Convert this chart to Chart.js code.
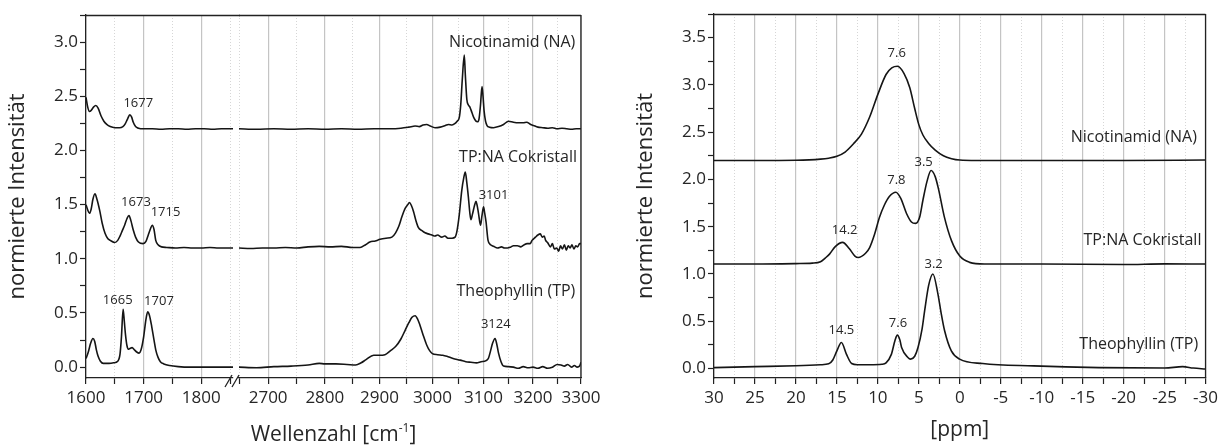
<!DOCTYPE html>
<html>
<head>
<meta charset="utf-8">
<script src="https://cdn.jsdelivr.net/npm/chart.js@4.4.0/dist/chart.umd.min.js"></script>
<style>
body { margin: 0; background: #fff; width: 1222px; height: 446px; overflow: hidden; position: relative; font-family: "Open Sans", sans-serif; }
.box { position: absolute; top: 0; height: 446px; }
#boxB { left: 0; width: 610px; }
#boxA { left: 0; width: 240px; }
#boxC { left: 600px; width: 622px; }
#xtitle { position: absolute; left: 86px; width: 495px; top: 420px; text-align: center; font-size: 21px; line-height: 26px; color: #262626; }
#xtitle sup { font-size: 12px; vertical-align: 9px; line-height: 0; }
</style>
</head>
<body>
<div class="box" id="boxB"><canvas id="irHigh"></canvas></div>
<div class="box" id="boxA"><canvas id="irLow"></canvas></div>
<div class="box" id="boxC"><canvas id="nmr"></canvas></div>
<div id="xtitle">Wellenzahl [cm<sup>-1</sup>]</div>
<script>
// ticks
const irTicksLow = [1600, 1650, 1700, 1750, 1800, 1850];
const irTicksHigh = [2650, 2700, 2750, 2800, 2850, 2900, 2950, 3000, 3050, 3100, 3150, 3200, 3250, 3300];
const ppmTicks = [30, 27.5, 25, 22.5, 20, 17.5, 15, 12.5, 10, 7.5, 5, 2.5, 0, -2.5, -5, -7.5, -10, -12.5, -15, -17.5, -20, -22.5, -25, -27.5, -30];
const irYTicks = [0, 0.25, 0.5, 0.75, 1, 1.25, 1.5, 1.75, 2, 2.25, 2.5, 2.75, 3, 3.25];
const nmrYTicks = [0, 0.25, 0.5, 0.75, 1, 1.25, 1.5, 1.75, 2, 2.25, 2.5, 2.75, 3, 3.25, 3.5, 3.75];

// IR spektren, bereich 1600-1855
const irNaLow = [[1600,2.49],[1603,2.40],[1606,2.36],[1609,2.37],[1613,2.40],[1617,2.415],[1621,2.39],[1626,2.32],[1631,2.27],[1636,2.24],[1642,2.22],[1650,2.21],[1658,2.21],[1664,2.22],[1668,2.245],[1672,2.29],[1676,2.33],[1679,2.31],[1682,2.26],[1686,2.22],[1691,2.205],[1700,2.20],[1715,2.20],[1730,2.195],[1745,2.20],[1760,2.20],[1775,2.195],[1790,2.20],[1805,2.20],[1820,2.195],[1835,2.20],[1855,2.20]];
const irCoLow = [[1600,1.50],[1603,1.45],[1606,1.42],[1609,1.46],[1612,1.55],[1615.5,1.60],[1619,1.55],[1624,1.44],[1628,1.33],[1633,1.235],[1638,1.185],[1642,1.17],[1650,1.15],[1655,1.17],[1659,1.21],[1663,1.26],[1667,1.31],[1671,1.37],[1674.5,1.40],[1678,1.35],[1682,1.265],[1686,1.20],[1691,1.155],[1699,1.14],[1704,1.16],[1708,1.22],[1712,1.28],[1715,1.31],[1718,1.27],[1721,1.17],[1725,1.13],[1731,1.11],[1740,1.105],[1755,1.10],[1770,1.105],[1785,1.10],[1800,1.10],[1815,1.105],[1830,1.10],[1845,1.10],[1855,1.10]];
const irTpLow = [[1600,0.08],[1604,0.14],[1608,0.22],[1612,0.265],[1615,0.24],[1618,0.16],[1621,0.10],[1625,0.055],[1630,0.035],[1640,0.035],[1648,0.04],[1655,0.055],[1659,0.12],[1661.5,0.28],[1664.4,0.535],[1666.5,0.42],[1668.5,0.30],[1671,0.20],[1674,0.165],[1677,0.175],[1680,0.18],[1684,0.16],[1688,0.14],[1692,0.13],[1696,0.17],[1700,0.28],[1704,0.44],[1707,0.51],[1710,0.48],[1714,0.375],[1718,0.25],[1721,0.16],[1725,0.09],[1729,0.05],[1735,0.03],[1745,0.015],[1760,0.005],[1780,0.0],[1800,0.0],[1820,0.0],[1840,0.0],[1855,0.0]];

// IR spektren, bereich 2650-3300
const irNaHigh = [[2650,2.20],[2680,2.195],[2710,2.20],[2740,2.195],[2770,2.20],[2800,2.195],[2830,2.20],[2860,2.195],[2890,2.20],[2920,2.20],[2940,2.205],[2955,2.215],[2967,2.225],[2975,2.22],[2982,2.235],[2989,2.24],[2996,2.225],[3005,2.21],[3015,2.215],[3025,2.23],[3031,2.24],[3038,2.235],[3044,2.25],[3048,2.27],[3052,2.30],[3055,2.42],[3058,2.65],[3062,2.88],[3064,2.70],[3067,2.47],[3070,2.42],[3073,2.40],[3077,2.35],[3081,2.30],[3085,2.27],[3088,2.265],[3091,2.29],[3094,2.42],[3097,2.59],[3099,2.50],[3101,2.37],[3104,2.27],[3107,2.23],[3112,2.215],[3120,2.21],[3130,2.22],[3140,2.24],[3150,2.27],[3160,2.26],[3170,2.255],[3180,2.255],[3187,2.26],[3195,2.24],[3201,2.23],[3210,2.215],[3220,2.21],[3230,2.205],[3240,2.21],[3250,2.20],[3260,2.205],[3270,2.20],[3280,2.195],[3290,2.20],[3300,2.20]];
const irCoHigh = [[2650,1.10],[2670,1.095],[2690,1.10],[2710,1.10],[2730,1.105],[2750,1.10],[2770,1.11],[2790,1.115],[2810,1.11],[2830,1.115],[2850,1.105],[2864,1.105],[2874,1.13],[2882,1.155],[2892,1.165],[2901,1.18],[2912,1.19],[2923,1.20],[2930,1.24],[2936,1.30],[2942,1.39],[2948,1.465],[2953,1.50],[2956,1.52],[2960,1.49],[2964,1.435],[2968,1.36],[2973,1.29],[2980,1.26],[2986,1.24],[2992,1.23],[2999,1.22],[3005,1.21],[3010,1.22],[3018,1.20],[3024,1.21],[3030,1.19],[3038,1.19],[3044,1.20],[3048,1.265],[3052,1.40],[3057,1.63],[3061,1.75],[3064,1.80],[3067,1.70],[3070,1.57],[3073,1.42],[3075,1.36],[3078,1.41],[3082,1.49],[3085,1.53],[3087,1.50],[3090,1.42],[3094,1.31],[3097,1.40],[3100,1.48],[3102,1.43],[3105,1.34],[3109,1.17],[3114,1.13],[3120,1.115],[3128,1.10],[3136,1.11],[3142,1.10],[3148,1.10],[3155,1.11],[3160,1.12],[3168,1.12],[3175,1.11],[3182,1.13],[3188,1.14],[3194,1.14],[3198,1.17],[3205,1.20],[3210,1.22],[3215,1.23],[3219,1.20],[3223,1.21],[3226,1.17],[3230,1.15],[3236,1.11],[3240,1.14],[3244,1.09],[3249,1.10],[3253,1.07],[3257,1.12],[3261,1.09],[3265,1.13],[3269,1.08],[3273,1.12],[3277,1.10],[3281,1.13],[3285,1.09],[3289,1.12],[3293,1.11],[3297,1.14],[3300,1.14]];
const irTpHigh = [[2650,0.0],[2680,-0.005],[2710,0.005],[2740,0.01],[2770,0.02],[2790,0.035],[2800,0.03],[2820,0.03],[2840,0.025],[2856,0.02],[2866,0.04],[2875,0.07],[2889,0.11],[2900,0.11],[2910,0.115],[2920,0.15],[2930,0.19],[2940,0.26],[2948,0.34],[2955,0.41],[2961,0.46],[2967,0.475],[2972,0.44],[2976,0.39],[2982,0.30],[2989,0.205],[2995,0.15],[3000,0.125],[3010,0.115],[3020,0.11],[3028,0.10],[3040,0.08],[3054,0.065],[3065,0.05],[3075,0.045],[3086,0.04],[3095,0.05],[3105,0.06],[3110,0.085],[3114,0.15],[3118,0.22],[3123,0.265],[3127,0.20],[3130,0.13],[3135,0.05],[3140,0.01],[3150,0.005],[3160,0.0],[3170,-0.01],[3180,0.005],[3190,-0.005],[3200,0.0],[3210,-0.01],[3220,0.005],[3230,-0.01],[3240,0.0],[3250,0.025],[3258,0.02],[3265,0.01],[3272,0.025],[3280,0.0],[3286,0.015],[3292,0.0],[3297,0.01],[3300,0.045]];

// NMR spektren (ppm)
const nmrNa = [[30,2.20],[25,2.20],[20,2.203],[17,2.215],[16,2.225],[15,2.245],[14,2.29],[13,2.375],[12,2.48],[11,2.66],[10,2.90],[9,3.11],[8.3,3.18],[7.6,3.197],[6.8,3.12],[6.1,2.97],[5.5,2.75],[5,2.58],[4.5,2.47],[3.8,2.38],[3,2.31],[2,2.25],[1,2.22],[0,2.205],[-2,2.20],[-10,2.20],[-20,2.20],[-30,2.205]];
const nmrCo = [[30,1.105],[25,1.105],[20,1.11],[18,1.115],[17,1.13],[16.4,1.17],[15.9,1.21],[15.2,1.29],[14.3,1.335],[13.5,1.27],[12.8,1.19],[12.4,1.175],[11.5,1.22],[11,1.28],[10.4,1.42],[9.8,1.60],[9.2,1.73],[8.6,1.82],[7.8,1.865],[7.2,1.80],[6.5,1.64],[5.9,1.55],[5.4,1.535],[4.9,1.60],[4.5,1.78],[4,1.98],[3.5,2.094],[3,2.03],[2.6,1.90],[1.9,1.61],[1.0,1.35],[0,1.19],[-1.2,1.123],[-3,1.105],[-10,1.105],[-20,1.10],[-25,1.107],[-30,1.105]];
const nmrTp = [[30,0.01],[25,0.02],[20,0.03],[17,0.04],[16,0.05],[15.5,0.09],[15,0.187],[14.45,0.275],[13.84,0.152],[13.2,0.053],[12.5,0.04],[11,0.04],[9.5,0.045],[9,0.06],[8.35,0.15],[7.9,0.30],[7.62,0.354],[7.3,0.30],[7.1,0.222],[6.33,0.117],[6.0,0.10],[5.5,0.13],[5.1,0.222],[4.6,0.42],[4.29,0.61],[3.8,0.88],[3.28,1.0],[2.67,0.79],[2.3,0.60],[1.85,0.40],[1.03,0.187],[0.02,0.10],[-2.8,0.053],[-9,0.028],[-17,0.01],[-25,0.005],[-27.2,0.02],[-28.5,0.005],[-30,-0.005]];

// beschriftungen [text, x, y]
const irPeaksLow = [['1677',1690.7,2.433],['1673',1686.7,1.526],['1715',1738,1.429],['1665',1655,0.614],['1707',1726.6,0.605]];
const irPeaksHigh = [['3101',3120,1.588],['3124',3124.4,0.396]];
const irNames = [['Nicotinamid (NA)',3288,3.0],['TP:NA Cokristall',3291.6,1.935],['Theophyllin (TP)',3288,0.697]];
const nmrPeaks = [['7.6',7.7,3.33],['7.8',7.74,1.99],['3.5',4.41,2.18],['14.2',14.05,1.466],['3.2',3.19,1.106],['14.5',14.45,0.407],['7.6',7.55,0.477]];
const nmrNames = [['Nicotinamid (NA)',-28.95,2.44],['TP:NA Cokristall',-29.5,1.353],['Theophyllin (TP)',-29.1,0.258]];

const TXT = '#262626';
Chart.defaults.font.family = '"Open Sans", sans-serif';
Chart.defaults.color = TXT;

function serie(pts) {
    return {
        data: pts.map(p => ({x: p[0], y: p[1]})),
        borderColor: '#151515',
        borderWidth: 1.6,
        pointRadius: 0,
        fill: false,
        cubicInterpolationMode: 'monotone'
    };
}

function isStep(v, step) {
    return Math.abs(v / step - Math.round(v / step)) < 1e-6;
}

function labelPlugin(peaks, names) {
    return {
        id: 'peakText',
        afterDatasetsDraw(chart) {
            let ctx = chart.ctx, sx = chart.scales.x, sy = chart.scales.y;
            ctx.save();
            ctx.fillStyle = TXT;
            ctx.textBaseline = 'middle';
            ctx.textAlign = 'center';
            ctx.font = '13px "Open Sans"';
            peaks.forEach(p => ctx.fillText(p[0], sx.getPixelForValue(p[1]), sy.getPixelForValue(p[2])));
            ctx.textAlign = 'right';
            ctx.font = '16px "Open Sans"';
            names.forEach(p => ctx.fillText(p[0], sx.getPixelForValue(p[1]), sy.getPixelForValue(p[2])));
            ctx.restore();
        }
    };
}

function framePlugin(toCanvas, right, breakMarks) {
    return {
        id: 'frame',
        afterDraw(chart) {
            let ctx = chart.ctx, a = chart.chartArea;
            ctx.save();
            ctx.strokeStyle = '#222';
            ctx.lineWidth = 1.3;
            ctx.beginPath();
            ctx.moveTo(a.left, a.top + 0.5);
            ctx.lineTo(toCanvas ? chart.width : a.right, a.top + 0.5);
            if (right) {
                ctx.moveTo(a.right, a.top);
                ctx.lineTo(a.right, a.bottom);
            }
            if (breakMarks) {
                [a.left - 10, a.left - 3].forEach(cx => {
                    ctx.moveTo(cx - 4, a.bottom + 9);
                    ctx.lineTo(cx + 3, a.bottom - 3);
                });
            }
            ctx.stroke();
            ctx.restore();
        }
    };
}

function xAxis(type, min, max, ticks, step, reverse) {
    return {
        type: type, min: min, max: max, reverse: !!reverse,
        afterBuildTicks: s => { s.ticks = ticks.map(v => ({value: v})); },
        afterFit: s => { s.height = 68; },
        ticks: {
            autoSkip: false, maxRotation: 0, padding: 4,
            font: {size: 17}, color: TXT,
            major: {enabled: false},
            callback: v => isStep(v, step) ? String(v) : ''
        },
        grid: {
            color: c => (c.tick && isStep(c.tick.value, step)) ? '#c4c4c4' : '#d6d6d6',
            lineWidth: c => (c.tick && isStep(c.tick.value, step)) ? 1.2 : 1,
            tickLength: 6, tickColor: '#222', tickWidth: 1.2
        },
        border: {
            color: '#222', width: 1.3,
            dash: c => (c.tick && !isStep(c.tick.value, step)) ? [1, 2] : []
        }
    };
}

function yAxis(min, max, ticks, width, show, title, titlePad) {
    return {
        type: 'linear', min: min, max: max, display: show,
        afterBuildTicks: s => { s.ticks = ticks.map(v => ({value: v})); },
        afterFit: s => { s.width = width; },
        ticks: {
            autoSkip: false, padding: 2, font: {size: 17}, color: TXT,
            callback: v => isStep(v, 0.5) ? v.toFixed(1) : ''
        },
        grid: {drawOnChartArea: false, tickLength: 6, tickColor: '#222', tickWidth: 1.2},
        border: {color: '#222', width: 1.3},
        title: {display: !!title, text: title, font: {size: 22}, color: TXT, padding: {top: titlePad, bottom: 0}}
    };
}

function baseOptions(padding, xs, ys) {
    return {
        responsive: true, maintainAspectRatio: false, animation: false, devicePixelRatio: 1,
        layout: {padding: padding},
        plugins: {legend: {display: false}, tooltip: {enabled: false}},
        scales: {x: xs, y: ys}
    };
}

// rechter teil des IR-diagramms (logarithmische achse)
new Chart(document.getElementById('irHigh'), {
    type: 'line',
    data: {datasets: [serie(irNaHigh), serie(irCoHigh), serie(irTpHigh)]},
    options: baseOptions({top: 15, left: 239, right: 29, bottom: 0},
        xAxis('logarithmic', 2650, 3300, irTicksHigh, 100),
        yAxis(-0.1, 3.25, irYTicks, 0, false)),
    plugins: [labelPlugin(irPeaksHigh, irNames), framePlugin(false, true, true)]
});

// linker teil des IR-diagramms
new Chart(document.getElementById('irLow'), {
    type: 'line',
    data: {datasets: [serie(irNaLow), serie(irCoLow), serie(irTpLow)]},
    options: baseOptions({top: 15, left: 0, right: 7, bottom: 0},
        xAxis('linear', 1600, 1855, irTicksLow, 100),
        yAxis(-0.1, 3.25, irYTicks, 86, true, 'normierte Intensität', 5)),
    plugins: [labelPlugin(irPeaksLow, []), framePlugin(true, false, false)]
});

// NMR
let nmrX = xAxis('linear', -30, 30, ppmTicks, 5, true);
nmrX.title = {display: true, text: '[ppm]', font: {size: 21}, color: TXT, padding: {top: 0, bottom: 3}};
new Chart(document.getElementById('nmr'), {
    type: 'line',
    data: {datasets: [serie(nmrNa), serie(nmrCo), serie(nmrTp)]},
    options: baseOptions({top: 14, left: 0, right: 16, bottom: 0},
        nmrX,
        yAxis(-0.1, 3.75, nmrYTicks, 114, true, 'normierte Intensität', 33)),
    plugins: [labelPlugin(nmrPeaks, nmrNames), framePlugin(false, true, false)]
});
</script>
</body>
</html>
